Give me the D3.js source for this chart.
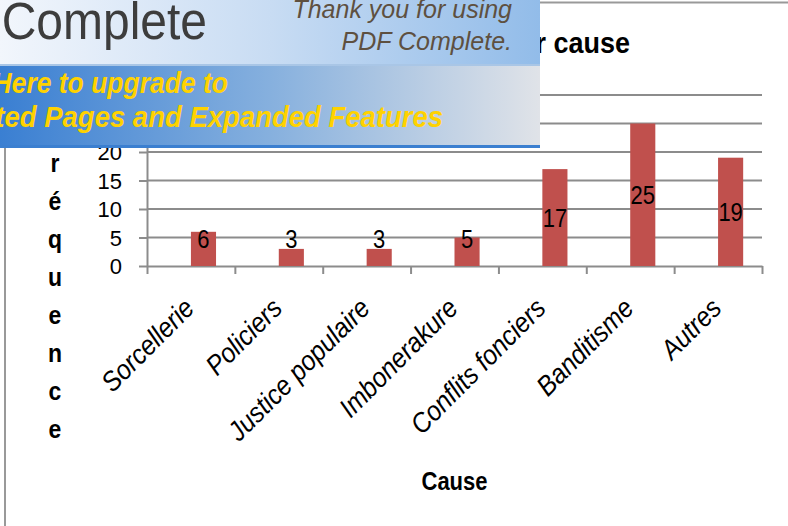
<!DOCTYPE html>
<meta charset="utf-8">
<style>
body { margin: 0; background: #fff; }
svg { display: block; font-family: "Liberation Sans", Arial, sans-serif; }
.grid line { stroke: #8c8c8c; stroke-width: 2px; }
.axis path, .axis line { stroke: #8c8c8c; stroke-width: 2px; }
.axis text { fill: #000; }
.bar { fill: #c0504d; }
</style>
<body>
<script src="https://d3js.org/d3.v7.min.js"></script>
<script>

    // data
    let categories = ["Sorcellerie", "Policiers", "Justice populaire", "Imbonerakure",
        "Conflits fonciers", "Banditisme", "Autres"];
    let values = [6, 3, 3, 5, 17, 25, 19];
    let yTicks = [0, 5, 10, 15, 20, 25, 30];
    let series = ["vide", "Fréquence"];   // excel cluster, first series empty
    let chartTitle = "Répartition des cas par cause";
    let xTitle = "Cause";
    let yTitle = "Fréquence";

    let width = 788, height = 526;
    let plot = {left: 147, right: 762, top: 95, bottom: 266};
    let stretch = "scale(1,1.15)";   // the source text is a bit taller than Liberation

    let svg = d3.select("body").append("svg")
        .attr("width", width)
        .attr("height", height);

    // chart frame
    svg.append("line").attr("x1", 5).attr("x2", 5).attr("y1", 2).attr("y2", height)
        .attr("stroke", "#999").attr("stroke-width", 2);
    svg.append("line").attr("x1", 5).attr("x2", width).attr("y1", 2.5).attr("y2", 2.5)
        .attr("stroke", "#999").attr("stroke-width", 2);

    // scales
    let x = d3.scaleBand().domain(categories).range([plot.left, plot.right]).padding(0);
    let xSub = d3.scaleBand().domain(series).range([0, x.bandwidth()])
        .paddingInner(0).paddingOuter(0.75);
    let xIdx = d3.scaleLinear().domain([0, categories.length]).range([plot.left, plot.right]);
    let y = d3.scaleLinear().domain([0, 30]).range([plot.bottom, plot.top]);

    // gridlines
    svg.append("g").attr("class", "grid")
        .selectAll("line").data(yTicks.slice(1)).enter().append("line")
        .attr("x1", plot.left).attr("x2", plot.right)
        .attr("y1", d => y(d)).attr("y2", d => y(d));

    // y axis
    let yAxis = svg.append("g").attr("class", "axis")
        .attr("transform", "translate(" + plot.left + ",0)")
        .call(d3.axisLeft(y).tickValues(yTicks).tickSize(8).tickSizeOuter(0).tickPadding(17));
    yAxis.selectAll("text").style("font-size", "22px").attr("dy", "0.36em");

    // x axis (ticks between categories)
    svg.append("g").attr("class", "axis")
        .attr("transform", "translate(0," + plot.bottom + ")")
        .call(d3.axisBottom(xIdx).ticks(categories.length).tickSize(8).tickSizeOuter(0).tickFormat(""));

    // bars
    svg.selectAll(".bar").data(values).enter().append("rect")
        .attr("class", "bar")
        .attr("x", (d, i) => x(categories[i]) + xSub("Fréquence"))
        .attr("width", xSub.bandwidth())
        .attr("y", d => y(d))
        .attr("height", d => y(0) - y(d));

    // data labels
    svg.selectAll(".lbl").data(values).enter().append("text")
        .attr("class", "lbl")
        .attr("transform", (d, i) => {
            let cx = x(categories[i]) + xSub("Fréquence") + xSub.bandwidth() / 2;
            let cy = Math.min((y(d) + y(0)) / 2, y(0) - 27) + 9;
            return "translate(" + cx + "," + cy + ") " + stretch;
        })
        .attr("text-anchor", "middle")
        .style("font-size", "22px")
        .text(d => d);

    // category labels
    svg.selectAll(".cat").data(categories).enter().append("text")
        .attr("class", "cat")
        .attr("transform", d => "translate(" + (x(d) + x.bandwidth() / 2 + 5) + "," + (plot.bottom + 44) + ") rotate(-45) scale(1,1.1)")
        .attr("text-anchor", "end")
        .style("font-size", "25px")
        .style("font-style", "italic")
        .text(d => d);

    // axis titles
    svg.append("text")
        .attr("transform", "translate(" + (plot.left + plot.right) / 2 + ",490) scale(1,1.2)")
        .attr("text-anchor", "middle")
        .style("font-size", "22px").style("font-weight", "bold")
        .text(xTitle);

    svg.selectAll(".ylet").data(yTitle.split("")).enter().append("text")
        .attr("class", "ylet")
        .attr("transform", (d, i) => "translate(55," + (134 + i * 38) + ") " + stretch)
        .attr("text-anchor", "middle")
        .style("font-size", "23px").style("font-weight", "bold")
        .text(d => d);

    // chart title
    svg.append("text")
        .attr("transform", "translate(630,53) scale(1,1.12)")
        .attr("text-anchor", "end")
        .style("font-size", "27px").style("font-weight", "bold")
        .text(chartTitle);

    // --- PDF Complete banner stamped on top ---
    let defs = svg.append("defs");
    let g1 = defs.append("linearGradient").attr("id", "topGrad");
    g1.append("stop").attr("offset", "0%").attr("stop-color", "#f2f6fc");
    g1.append("stop").attr("offset", "50%").attr("stop-color", "#c8dcf3");
    g1.append("stop").attr("offset", "100%").attr("stop-color", "#92bce9");
    let g2 = defs.append("linearGradient").attr("id", "botGrad");
    g2.append("stop").attr("offset", "0%").attr("stop-color", "#3a7fd2");
    g2.append("stop").attr("offset", "50%").attr("stop-color", "#86b0de");
    g2.append("stop").attr("offset", "100%").attr("stop-color", "#e0e3e8");

    let banner = svg.append("g");
    banner.append("rect").attr("x", 0).attr("y", 0).attr("width", 540).attr("height", 65)
        .attr("fill", "url(#topGrad)");
    banner.append("rect").attr("x", 0).attr("y", 65).attr("width", 540).attr("height", 81)
        .attr("fill", "url(#botGrad)");
    banner.append("rect").attr("x", 0).attr("y", 64).attr("width", 540).attr("height", 2)
        .attr("fill", "#a9c6e6");
    banner.append("rect").attr("x", 0).attr("y", 145).attr("width", 540).attr("height", 3)
        .attr("fill", "#3b7fd0");

    banner.append("text").attr("transform", "translate(207,39) scale(1,1.08)").attr("text-anchor", "end")
        .style("font-size", "48px").attr("fill", "#3d3d3d").text("Complete");
    banner.append("text").attr("x", 512).attr("y", 18).attr("text-anchor", "end")
        .style("font-size", "25px").style("font-style", "italic").attr("fill", "#5e5040")
        .text("Thank you for using");
    banner.append("text").attr("x", 512).attr("y", 50).attr("text-anchor", "end")
        .style("font-size", "25px").style("font-style", "italic").attr("fill", "#5e5040")
        .text("PDF Complete.");
    banner.append("text").attr("transform", "translate(228,93) scale(1,1.1)").attr("text-anchor", "end")
        .style("font-size", "26.5px").style("font-style", "italic").style("font-weight", "bold")
        .attr("fill", "#ffd200").text("Click Here to upgrade to");
    banner.append("text").attr("transform", "translate(443,127) scale(1,1.05)").attr("text-anchor", "end")
        .style("font-size", "27.5px").style("font-style", "italic").style("font-weight", "bold")
        .attr("fill", "#ffd200").text("Unlimited Pages and Expanded Features");

</script>
</body>
